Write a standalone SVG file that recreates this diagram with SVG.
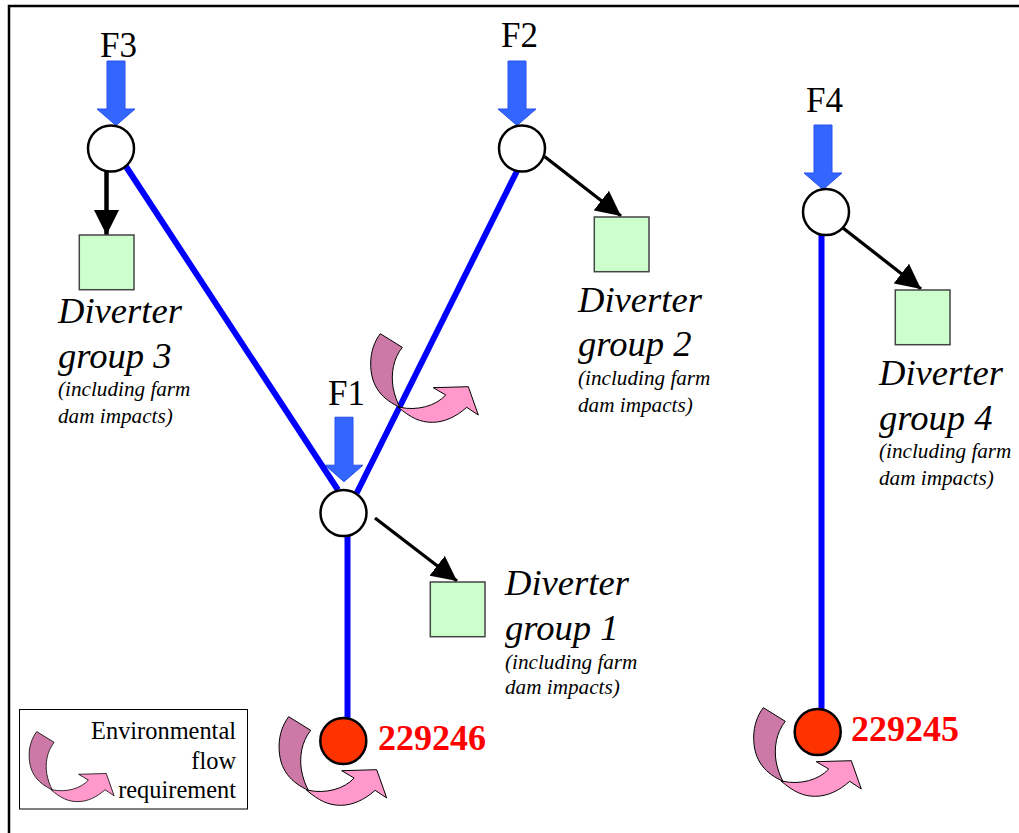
<svg xmlns="http://www.w3.org/2000/svg" width="1019" height="833" viewBox="0 0 1019 833">
<style>
text{font-family:"Liberation Serif","Times New Roman",serif;fill:#000}
.f{font-size:35px}
.d{font-size:36.6px;font-style:italic}
.s{font-size:21.2px;font-style:italic}
.l{font-size:24.4px;text-anchor:end}
.g{font-size:36px;font-weight:bold;fill:#f00}
.river{stroke:#0000ff;stroke-width:6;fill:none}
.div{stroke:#000;stroke-width:3.3;fill:none;marker-end:url(#ah)}
.node{fill:#fff;stroke:#000;stroke-width:2.500}
.gauge{fill:#ff3300;stroke:#000;stroke-width:2.500}
.sq{fill:#ccffcc;stroke:#444;stroke-width:1.500}
</style>
<defs>
<marker id="ah" markerUnits="userSpaceOnUse" markerWidth="26" markerHeight="26" refX="25" refY="13" orient="auto"><path d="M0 0.500L25 13L0 25.500Z" fill="#000"/></marker>
<path id="inflow" d="M-9 -64.500H9V-16.500H19L0 0L-19 -16.500H-9Z" fill="#3366ff" stroke="#2a4ff0" stroke-width="1"/>
<g id="efr" stroke="#000" stroke-width="1">
<path d="M400 407.300C417 411 436 406 445.700 395L433.300 387.700L468.300 386.700L478.300 415L466.700 407.300C456 417 444 422.300 432.300 422.300C420 422.300 411 418 398 407Z" fill="#ff99cc"/>
<path d="M380.300 333.700L402.300 347.300C393 359 391 374 393 387C394.500 395 397 402 400 407.300C384 400 370 388 370.700 362C371 352 374 342 380.300 333.700Z" fill="#cc79a7"/>
</g>
</defs>
<rect width="1019" height="833" fill="#fff"/>
<path id="frame" d="M1019 6H9V833" fill="none" stroke="#000" stroke-width="2.500"/>
<g id="connectors">
<path class="river" d="M125 165L338 490"/>
<path class="river" d="M517 171L356.700 493"/>
<path class="river" d="M347.500 536V720"/>
<path class="river" d="M821.500 234V711"/>
<path d="M106.500 171V235" stroke="#000" stroke-width="4.500" fill="none" marker-end="url(#ah)"/>
<path class="div" d="M544.500 156.500L621 216"/>
<path class="div" d="M843 228L921 289"/>
<path class="div" d="M375 518L457 581"/>
</g>
<g id="efr-upper"><use href="#efr"/></g>
<g id="node-f3"><use href="#inflow" x="116" y="125.500"/><circle class="node" cx="111" cy="148.500" r="23"/><text class="f" x="100" y="57">F3</text></g>
<g id="node-f2"><use href="#inflow" x="517" y="125.500"/><circle class="node" cx="522" cy="148.500" r="23"/><text class="f" x="501" y="47">F2</text></g>
<g id="node-f1"><use href="#inflow" x="344" y="481.700"/><circle class="node" cx="343.500" cy="513" r="23"/><text class="f" x="328" y="405">F1</text></g>
<g id="node-f4"><use href="#inflow" x="823" y="189.500"/><circle class="node" cx="826" cy="212" r="23"/><text class="f" x="806" y="112">F4</text></g>
<g id="diverter-3"><rect class="sq" x="79.300" y="235" width="54.700" height="54.700"/><text class="d" x="58" y="323">Diverter</text><text class="d" x="58" y="368">group 3</text><text class="s" x="58" y="396">(including farm</text><text class="s" x="58" y="423">dam impacts)</text></g>
<g id="diverter-2"><rect class="sq" x="594.300" y="217" width="54.700" height="54.700"/><text class="d" x="578" y="312">Diverter</text><text class="d" x="578" y="356">group 2</text><text class="s" x="578" y="385">(including farm</text><text class="s" x="578" y="412">dam impacts)</text></g>
<g id="diverter-4"><rect class="sq" x="895.300" y="290" width="54.700" height="54.700"/><text class="d" x="879" y="385">Diverter</text><text class="d" x="879" y="430">group 4</text><text class="s" x="879" y="458">(including farm</text><text class="s" x="879" y="485">dam impacts)</text></g>
<g id="diverter-1"><rect class="sq" x="430.300" y="582" width="54.700" height="54.700"/><text class="d" x="505" y="595">Diverter</text><text class="d" x="505" y="640">group 1</text><text class="s" x="505" y="669">(including farm</text><text class="s" x="505" y="694">dam impacts)</text></g>
<g id="gauge-229246"><use href="#efr" transform="translate(-91.600 383)"/><circle class="gauge" cx="343.300" cy="741" r="23"/><text class="g" x="378" y="750">229246</text></g>
<g id="gauge-229245"><use href="#efr" transform="translate(383 374)"/><circle class="gauge" cx="817.700" cy="732" r="23"/><text class="g" x="851" y="741">229245</text></g>
<g id="legend"><rect x="19.500" y="709.500" width="228" height="99.500" fill="#fff" stroke="#000" stroke-width="1"/><use href="#efr" transform="translate(-263.700 468) scale(.79)"/><text class="l" x="236" y="739">Environmental</text><text class="l" x="236" y="769">flow</text><text class="l" x="236" y="798">requirement</text></g>
</svg>
